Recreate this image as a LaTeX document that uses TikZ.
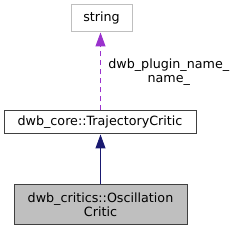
\documentclass[tikz,border=0pt]{standalone}
\usepackage{fontspec}
\setmainfont{DejaVu Sans}
\usetikzlibrary{arrows.meta}
\definecolor{edgegray}{HTML}{404040}
\definecolor{lightedge}{HTML}{BFBFBF}
\definecolor{fillgray}{HTML}{BFBFBF}
\definecolor{navy}{HTML}{191970}
\definecolor{purp}{HTML}{9A32CD}
\tikzset{
  x=1pt,y=1pt,
  txt/.style={font=\fontsize{12.7}{14}\selectfont},
  box/.style={draw=edgegray, line width=1pt, inner sep=0pt, txt, align=center},
}
\begin{document}
\begin{tikzpicture}
\useasboundingbox (0,0) rectangle (235,232);
\node[box, draw=lightedge, minimum width=61, minimum height=27] (str) at (101.5,213.5) {string};
\node[box, fill=white, minimum width=192, minimum height=23] (tc) at (100,109.5) {dwb\_core::TrajectoryCritic};
\node[box, fill=fillgray, minimum width=173, minimum height=40] (oc) at (100.5,27) {dwb\_critics::Oscillation\\Critic};
\draw[navy, line width=1pt, -{Triangle[length=14pt,width=10pt]}] (oc.north) -- (oc.north |- tc.south);
\draw[purp, line width=1pt, dash pattern=on 5pt off 4pt, -{Triangle[length=14pt,width=10pt]}] (oc.north |- tc.north) -- (oc.north |- str.south)
  node[pos=0.49, anchor=west, text=black, txt, align=center, xshift=4pt] {dwb\_plugin\_name\_\\name\_};
\end{tikzpicture}
\end{document}
